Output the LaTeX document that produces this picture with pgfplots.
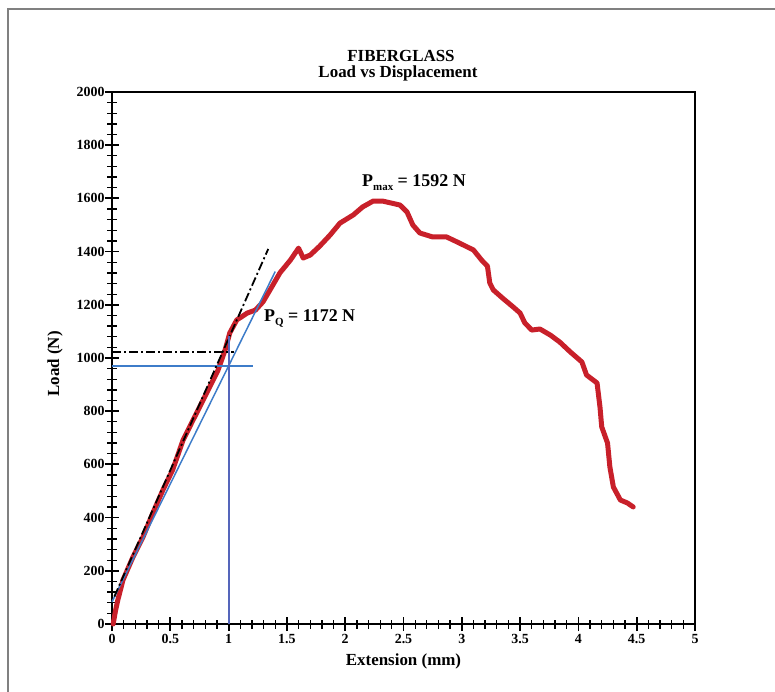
\documentclass[border=0pt]{standalone}
\usepackage{fontspec}
\setmainfont{Liberation Serif}
\usepackage{pgfplots}
\pgfplotsset{compat=1.18}
\definecolor{curvered}{HTML}{C8202A}
\definecolor{lineblue}{HTML}{3D7CC9}
\definecolor{vline}{HTML}{5566BB}
\definecolor{framegray}{HTML}{808080}
\newcommand{\sub}[1]{\raisebox{-0.4ex}{\fontsize{11}{12}\selectfont #1}}
\begin{document}
\begin{tikzpicture}
\begin{axis}[
  scale only axis, width=583bp, height=532bp,
  xmin=0, xmax=5, ymin=0, ymax=2000,
  xtick={0,0.5,1,1.5,2,2.5,3,3.5,4,4.5,5},
  ytick={0,200,400,600,800,1000,1200,1400,1600,1800,2000},
  minor x tick num=4, minor y tick num=4,
  xtick pos=bottom, ytick pos=left,
  tick align=center,
  major tick length=14bp, minor tick length=9bp,
  major tick style={line width=1.8bp, black},
  minor tick style={line width=1.3bp, black},
  axis line style={line width=2bp},
  ticklabel style={font=\fontsize{14}{16}\selectfont\bfseries},
  yticklabel style={xshift=3bp},
  /pgf/number format/assume math mode=true,
  /pgf/number format/1000 sep={},
  clip=false,
]
\addplot[curvered, line width=5bp, line join=round, line cap=round] coordinates {
(0.01,0) (0.03,50) (0.05,90) (0.094,165) (0.18,252) (0.266,327) (0.35,417)
(0.437,504) (0.52,579) (0.61,692) (0.70,771) (0.80,858) (0.91,955) (0.97,1030)
(1.01,1094) (1.07,1143) (1.16,1169) (1.23,1180) (1.295,1211) (1.37,1267)
(1.44,1320) (1.53,1368) (1.60,1413) (1.64,1376) (1.70,1387) (1.78,1420)
(1.87,1462) (1.955,1507) (2.07,1538) (2.15,1568) (2.24,1590) (2.32,1590)
(2.40,1582) (2.47,1575) (2.53,1549) (2.58,1500) (2.64,1470) (2.75,1455)
(2.87,1455) (2.98,1432) (3.10,1406) (3.17,1368) (3.22,1345) (3.24,1282)
(3.27,1256) (3.35,1225) (3.44,1192) (3.50,1169) (3.54,1132) (3.60,1105)
(3.67,1109) (3.76,1086) (3.84,1060) (3.93,1023) (4.03,985) (4.07,936)
(4.16,906) (4.185,816) (4.20,741) (4.25,680) (4.27,590) (4.30,515)
(4.36,466) (4.42,455) (4.47,440)
};
\addplot[lineblue, line width=1.5bp] coordinates {(0,970) (1.21,970)};
\addplot[lineblue, line width=1.5bp] coordinates {(0.0,83) (1.40,1325)};
\addplot[black, line width=1.8bp, dash pattern=on 9bp off 3bp on 2bp off 3bp] coordinates {(0.02,103) (1.34,1410)};
\addplot[black, line width=1.8bp, dash pattern=on 9bp off 3bp on 2bp off 3bp] coordinates {(0,1023) (1.05,1023)};
\addplot[vline, line width=1.8bp] coordinates {(1,0) (1,1083)};
\end{axis}
\node[anchor=base, inner sep=0pt, font=\fontsize{17}{19}\selectfont\bfseries] at (289bp,562bp) {FIBERGLASS};
\node[anchor=base, inner sep=0pt, font=\fontsize{17}{19}\selectfont\bfseries] at (286bp,546bp) {Load vs Displacement};
\node[anchor=base west, inner sep=0pt, font=\fontsize{18}{20}\selectfont\bfseries] at (250bp,437bp) {P\sub{max} = 1592 N};
\node[anchor=base west, inner sep=0pt, font=\fontsize{18}{20}\selectfont\bfseries] at (152bp,302bp) {P\sub{Q} = 1172 N};
\node[anchor=base, font=\fontsize{17}{19}\selectfont\bfseries] at (291.5bp,-41bp) {Extension (mm)};
\node[anchor=center, rotate=90, font=\fontsize{17}{19}\selectfont\bfseries] at (-57bp,260bp) {Load (N)};
\draw[framegray, line width=2bp] (-104bp,-90bp) -- (-104bp,615bp) -- (700bp,615bp);
\pgfresetboundingbox
\path[use as bounding box] (-112bp,-68bp) rectangle (663bp,624bp);
\end{tikzpicture}
\end{document}
